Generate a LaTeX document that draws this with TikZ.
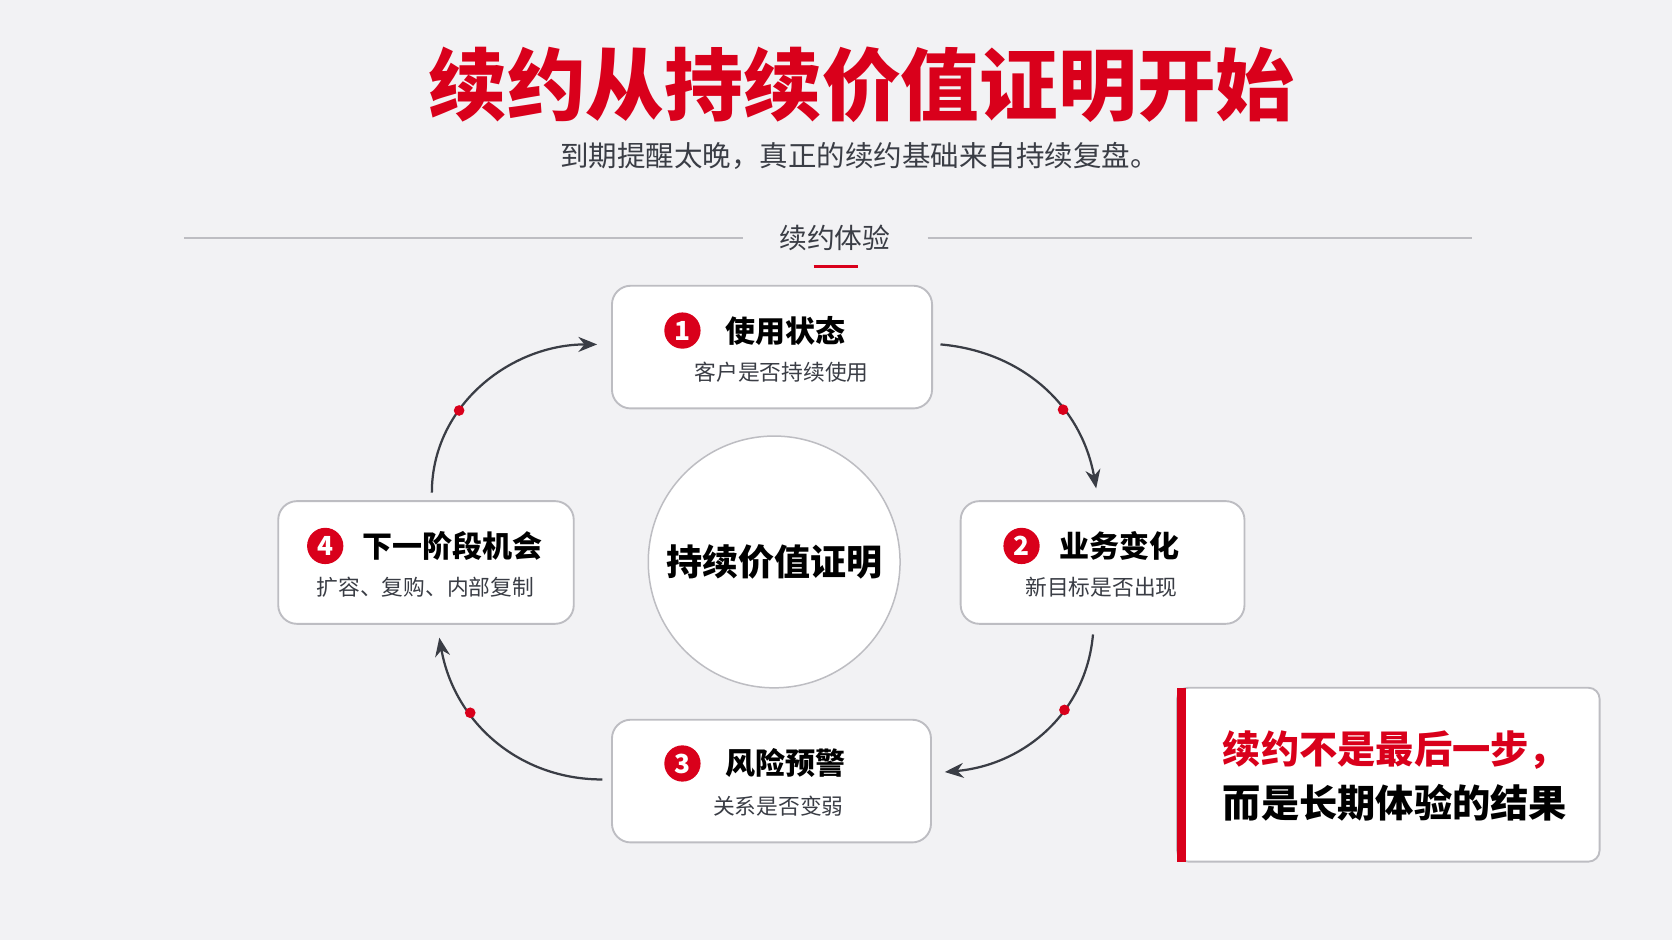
\documentclass[tikz,border=0pt]{standalone}
\usepackage{fontspec}
\setmainfont{Noto Sans CJK SC}
\usetikzlibrary{arrows.meta, positioning}
\definecolor{brandred}{HTML}{D9001B}
\definecolor{bggray}{HTML}{F2F2F4}
\definecolor{edgegray}{HTML}{BDBDC2}
\definecolor{inkgray}{HTML}{3A3D45}

\begin{document}
\begin{tikzpicture}[
    x=0.01cm, y=-0.01cm,
    every node/.style={inner sep=0pt},
    card/.style={rectangle, rounded corners=5pt, draw=edgegray, fill=white, line width=0.5pt},
    badge/.style={circle, fill=brandred, minimum size=0.34cm, text=white, font=\fontsize{7}{8}\selectfont\bfseries},
    cardtitle/.style={font=\fontsize{8}{9}\selectfont\bfseries, text=black},
    cardsub/.style={font=\fontsize{5.8}{7}\selectfont, text=inkgray},
    dot/.style={circle, fill=brandred, minimum size=0.1cm},
    flow/.style={draw=inkgray, line width=0.6pt, -{Stealth[length=5pt,width=4pt]}},
    rule/.style={draw=edgegray, line width=0.4pt}
]
\useasboundingbox[fill=bggray] (0,0) rectangle (1568,882);

% Header
\node (title) [font=\fontsize{21}{23}\selectfont\bfseries, text=brandred] at (808,80) {续约从持续价值证明开始};
\node (subtitle) [font=\fontsize{7.6}{9}\selectfont, text=inkgray] at (806,146) {到期提醒太晚，真正的续约基础来自持续复盘。};
\node (section) [font=\fontsize{7.4}{9}\selectfont, text=inkgray] at (783,223) {续约体验};
\draw [rule] (173,223) -- (697,223);
\draw [rule] (870,223) -- (1380,223);
\draw [brandred, line width=0.8pt] (763,250) -- (805,250);

% Cards
\node (usage) [card, minimum width=3cm, minimum height=1.15cm] at (724,325.5) {};
\node (change) [card, minimum width=2.66cm, minimum height=1.15cm] at (1034,527.5) {};
\node (risk) [card, minimum width=2.99cm, minimum height=1.15cm] at (723.5,732.5) {};
\node (next) [card, minimum width=2.77cm, minimum height=1.15cm] at (399.5,527.5) {};
\node (core) [circle, draw=edgegray, fill=white, minimum size=2.36cm, font=\fontsize{9.6}{11}\selectfont\bfseries] at (726,527) {持续价值证明};

\node [badge] at (640,310) {1};
\node [cardtitle] at (737,310) {使用状态};
\node [cardsub] at (733,349) {客户是否持续使用};
\node [badge] at (958,512) {2};
\node [cardtitle] at (1050,512) {业务变化};
\node [cardsub] at (1033,551) {新目标是否出现};
\node [badge] at (640,716) {3};
\node [cardtitle] at (737,716) {风险预警};
\node [cardsub] at (730,756) {关系是否变弱};
\node [badge] at (305,512) {4};
\node [cardtitle] at (424,512) {下一阶段机会};
\node [cardsub] at (399,551) {扩容、复购、内部复制};

% Cycle arrows
\coordinate (a1) at (882,323); \coordinate (b1) at (1028,458);
\coordinate (a2) at (1025,595); \coordinate (b2) at (886,724);
\coordinate (a3) at (565,731); \coordinate (b3) at (412,598);
\coordinate (a4) at (405,462); \coordinate (b4) at (560,323);
\draw [flow] (a1) to[out=-5, in=100] node[dot, pos=0.63] {} (b1);
\draw [flow] (a2) to[out=-95, in=5] node[dot, pos=0.37] {} (b2);
\draw [flow] (a3) to[out=180, in=-80] node[dot, pos=0.66] {} (b3);
\draw [flow] (a4) to[out=90, in=180] node[dot, pos=0.36] {} (b4);

% Takeaway
\node (takeaway) [card, rounded corners=3pt, minimum width=3.96cm, minimum height=1.63cm] at (1302,726.5) {};
\fill [brandred] (1104,645) rectangle (1112,808);
\node [font=\fontsize{10.2}{12}\selectfont\bfseries, text=brandred, anchor=west] at (1146,703) {续约不是最后一步，};
\node [font=\fontsize{10.2}{12}\selectfont\bfseries, text=black, anchor=west] at (1146,753) {而是长期体验的结果};

\end{tikzpicture}
\end{document}
